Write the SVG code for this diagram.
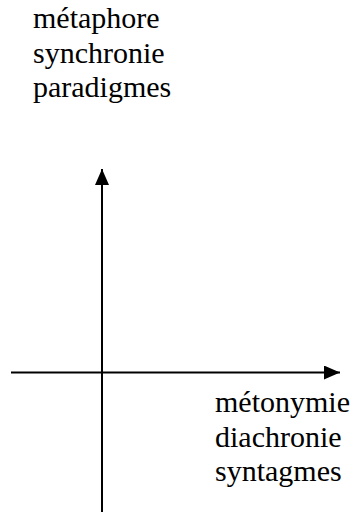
<svg xmlns="http://www.w3.org/2000/svg" width="360" height="517" viewBox="0 0 360 517">
<defs>
<marker id="ah" markerUnits="userSpaceOnUse" markerWidth="16" markerHeight="14" refX="16" refY="7" orient="auto">
<path d="M0,0 L16,7 L0,14 Z" fill="#000"/>
</marker>
</defs>
<rect width="360" height="517" fill="#fff"/>
<g id="connectors" stroke="#000" stroke-width="2" fill="none">
<line x1="102" y1="512" x2="102" y2="169" marker-end="url(#ah)"/>
<line x1="11" y1="372.5" x2="340" y2="372.5" marker-end="url(#ah)"/>
</g>
<g id="top-label">
<text x="33" y="28" font-family="'Liberation Serif', serif" font-size="30">métaphore</text>
<text x="33" y="63" font-family="'Liberation Serif', serif" font-size="30">synchronie</text>
<text x="33" y="97" font-family="'Liberation Serif', serif" font-size="30">paradigmes</text>
</g>
<g id="bottom-label">
<text x="215" y="412" font-family="'Liberation Serif', serif" font-size="30">métonymie</text>
<text x="215" y="446.5" font-family="'Liberation Serif', serif" font-size="30">diachronie</text>
<text x="215" y="481" font-family="'Liberation Serif', serif" font-size="30">syntagmes</text>
</g>
</svg>
